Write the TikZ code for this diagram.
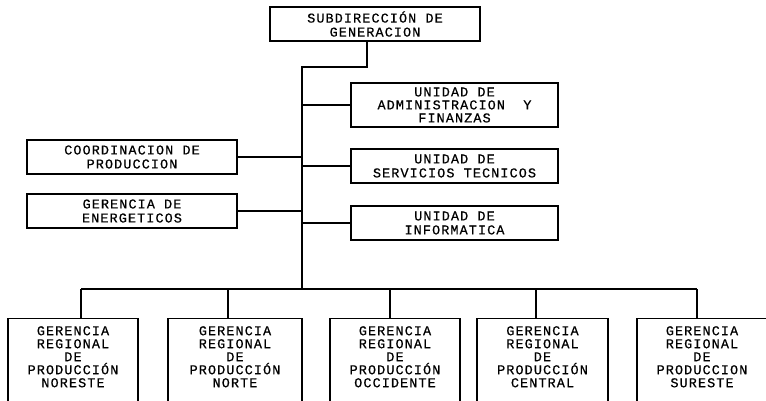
\documentclass[tikz,border=0pt]{standalone}
\usepackage{fontspec}
\newfontfamily\tw[LetterSpace=8,FakeBold=0.5]{Liberation Mono}
\begin{document}
\begin{tikzpicture}[x=1pt,y=-1pt,
  box/.style={draw,line width=1.3pt,rectangle,inner sep=0pt,align=center,
    font=\tw\fontsize{13.5}{14}\selectfont},
  lowbox/.style={draw,line width=1.3pt,rectangle,inner sep=0pt,
    minimum width=130pt,minimum height=94pt,anchor=north},
  lbl/.style={inner sep=0pt,align=center,anchor=north,
    font=\tw\fontsize{13.5}{13}\selectfont},
  conn/.style={line width=1.3pt}]
\useasboundingbox (0,0) rectangle (766,400);
\begin{scope}
\clip (0,0) rectangle (766,400);
% top
\node[box,minimum width=210pt,minimum height=34pt] (top) at (375,24)
  {SUBDIRECCIÓN DE\\GENERACION};
% right
\node[box,minimum width=207pt,minimum height=44pt,
  font=\tw\fontsize{13.5}{13}\selectfont] (adm) at (454.5,105)
  {UNIDAD DE\\ADMINISTRACION\ \ Y\\FINANZAS};
\node[box,minimum width=207pt,minimum height=34pt] (serv) at (454.5,166)
  {UNIDAD DE\\SERVICIOS TECNICOS};
\node[box,minimum width=207pt,minimum height=34pt] (info) at (454.5,223)
  {UNIDAD DE\\INFORMATICA};
% left
\node[box,minimum width=210pt,minimum height=34pt] (coord) at (132,157)
  {COORDINACION DE\\PRODUCCION};
\node[box,minimum width=210pt,minimum height=34pt] (ener) at (132,211)
  {GERENCIA DE\\ENERGETICOS};
% bottom boxes
\node[lowbox] (b1) at (73,318) {};
\node[lowbox,minimum width=134pt] (b2) at (235,318) {};
\node[lowbox] (b3) at (395,318) {};
\node[lowbox,minimum width=131pt] (b4) at (542.5,318) {};
\node[lowbox] (b5) at (702,318) {};
\node[lbl] (t1) at ([yshift=-8pt]b1.north) {GERENCIA\\REGIONAL\\DE\\PRODUCCIÓN\\NORESTE};
\node[lbl] (t2) at ([yshift=-8pt]b2.north) {GERENCIA\\REGIONAL\\DE\\PRODUCCIÓN\\NORTE};
\node[lbl] (t3) at ([yshift=-8pt]b3.north) {GERENCIA\\REGIONAL\\DE\\PRODUCCIÓN\\OCCIDENTE};
\node[lbl] (t4) at ([yshift=-8pt]b4.north) {GERENCIA\\REGIONAL\\DE\\PRODUCCIÓN\\CENTRAL};
\node[lbl] (t5) at ([yshift=-8pt]b5.north) {GERENCIA\\REGIONAL\\DE\\PRODUCCION\\SURESTE};
% connectors
\coordinate (s0) at (367,41);
\coordinate (sp) at (302,67);
\coordinate (spb) at (302,289);
\coordinate (d1) at (81,289);
\coordinate (d2) at (228,289);
\coordinate (d3) at (390,289);
\coordinate (d4) at (536,289);
\coordinate (d5) at (697,289);
\draw[conn] (s0) -- (s0 |- sp) -- (sp) -- (spb);
\draw[conn] (adm.west -| sp) -- (adm.west);
\draw[conn] (serv.west -| sp) -- (serv.west);
\draw[conn] (info.west -| sp) -- (info.west);
\draw[conn] (coord.east) -- (coord.east -| sp);
\draw[conn] (ener.east) -- (ener.east -| sp);
\draw[conn] (d1) -- (d5);
\draw[conn] (d1) -- (d1 |- b1.north);
\draw[conn] (d2) -- (d2 |- b2.north);
\draw[conn] (d3) -- (d3 |- b3.north);
\draw[conn] (d4) -- (d4 |- b4.north);
\draw[conn] (d5) -- (d5 |- b5.north);
\end{scope}
\end{tikzpicture}
\end{document}
